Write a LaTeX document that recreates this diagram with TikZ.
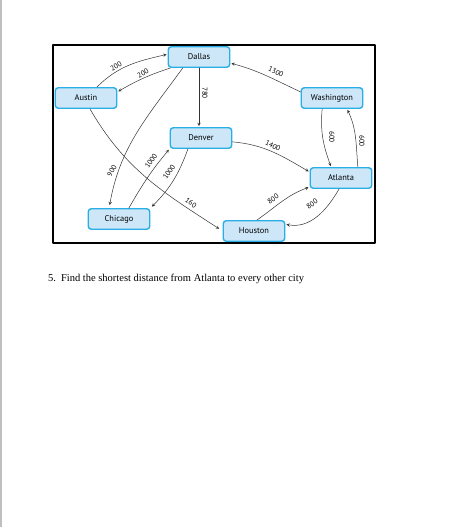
\documentclass[tikz,border=0pt]{standalone}
\usepackage{fontspec}
\setmainfont{Liberation Serif}
\newfontfamily\mapfont{PT Sans}
\definecolor{cityfill}{HTML}{CDE7F8}
\definecolor{cityline}{HTML}{2AAEE6}
\begin{document}
\begin{tikzpicture}[x=1pt, y=1pt, line join=round, line cap=round, >=stealth,
  city/.style={draw=cityline, fill=cityfill, line width=1.4pt, rounded corners=3pt,
    minimum width=61.5pt, minimum height=20.5pt, inner sep=0pt,
    font=\mapfont\fontsize{8.4}{9}\selectfont},
  road/.style={->, draw=black!80, line width=.5pt, shorten >=1pt},
  dist/.style={font=\mapfont\fontsize{7.2}{7}\selectfont, inner sep=0pt}]
\useasboundingbox (0,0) rectangle (474,-527);
\fill[black!25] (0,0) rectangle (1.5,-527);
\draw[line width=2pt] (53,-45) rectangle (375,-243);
% cities
\node[city] (dallas) at (199,-57) {Dallas};
\node[city] (austin) at (86,-98) {Austin};
\node[city] (washington) at (332,-98) {Washington};
\node[city] (denver) at (201,-138) {Denver};
\node[city] (atlanta) at (341,-178) {Atlanta};
\node[city] (chicago) at (119,-219) {Chicago};
\node[city] (houston) at (254,-231) {Houston};
% roads
\draw[road] (austin.45) to[out=45,in=193] (dallas.175);
\draw[road] (dallas.201) to[bend right=6] (austin.11);
\draw[road] (dallas.south) -- (dallas.south |- denver.north);
\draw[road] (washington.169) to[out=155,in=-15] (dallas.-11);
\draw[road] (washington.228) to[out=-95,in=110] (atlanta.132);
\draw[road] (atlanta.33) to[out=95,in=-65] (washington.-36);
\draw[road] (denver.-7) to[out=-5,in=150] (atlanta.169);
\draw[road] (houston.75) to[out=35,in=200] (atlanta.196);
\draw[road] (atlanta.-100) to[out=240,in=-10] (houston.12);
\draw[road, shorten >=4pt] (austin.-70) to[out=-60,in=147] (houston.west);
\draw[road, shorten >=3pt] (dallas.214) to[out=234,in=80] (chicago.132);
\draw[road] (chicago.48) to[out=60,in=230] (denver.south west);
\draw[road, shorten >=2pt] (denver.220) to[out=250,in=45] (chicago.north east);
% distances
\node[dist, rotate=32] (d-aus-dal) at (116,-66) {200};
\node[dist, rotate=30] (d-dal-aus) at (143,-73) {200};
\node[dist, rotate=-90] (d-dal-den) at (205,-93) {780};
\node[dist, rotate=-25] (d-was-dal) at (276,-72) {1300};
\node[dist, rotate=-90] (d-was-atl) at (332,-137) {600};
\node[dist, rotate=-90] (d-atl-was) at (362,-141) {600};
\node[dist, rotate=-25] (d-den-atl) at (273,-146) {1400};
\node[dist, rotate=35] (d-hou-atl) at (273,-199) {800};
\node[dist, rotate=35] (d-atl-hou) at (312,-204) {800};
\node[dist, rotate=-35] (d-aus-hou) at (191,-203) {160};
\node[dist, rotate=60] (d-dal-chi) at (112,-171) {900};
\node[dist, rotate=55] (d-chi-den) at (151,-161) {1000};
\node[dist, rotate=55] (d-den-chi) at (169,-172) {1000};
% question
\node[anchor=base west, inner sep=0pt, font=\fontsize{10.5}{12}\selectfont] (task) at (48,-281)
  {5.\hspace{5pt}Find the shortest distance from Atlanta to every other city};
\end{tikzpicture}
\end{document}
